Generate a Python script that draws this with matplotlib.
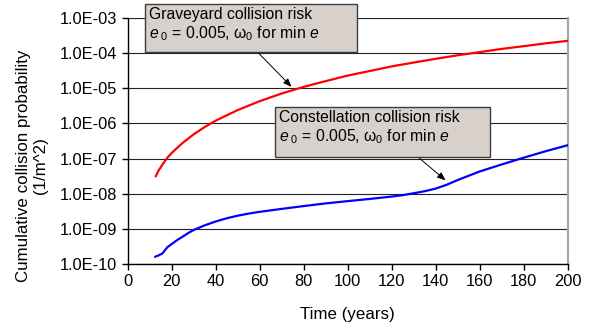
import numpy as np
import matplotlib
matplotlib.use("Agg")
import matplotlib.pyplot as plt
from matplotlib.patches import Rectangle
from matplotlib.ticker import FixedLocator, FuncFormatter, NullLocator

plt.rcParams["font.family"] = ["Liberation Sans", "DejaVu Sans"]
plt.rcParams["mathtext.fontset"] = "custom"
plt.rcParams["mathtext.rm"] = "Liberation Sans"
plt.rcParams["mathtext.it"] = "Liberation Sans:italic"
plt.rcParams["mathtext.bf"] = "Liberation Sans:bold"

# Graveyard orbit cumulative collision probability (1/m^2) vs time (years)
graveyard_years = [12.7, 14, 16, 18, 20, 25, 30, 35, 40, 50, 60, 70, 80, 90,
                   100, 110, 120, 130, 140, 150, 160, 170, 180, 190, 200]
graveyard_prob = [3.1e-8, 4.5e-8, 7.1e-8, 1.05e-7, 1.45e-7, 2.8e-7, 4.9e-7,
                  7.9e-7, 1.2e-6, 2.4e-6, 4.3e-6, 7.1e-6, 1.1e-5, 1.6e-5,
                  2.3e-5, 3.1e-5, 4.2e-5, 5.4e-5, 6.9e-5, 8.7e-5, 1.07e-4,
                  1.32e-4, 1.58e-4, 1.9e-4, 2.24e-4]

# Constellation cumulative collision probability (1/m^2) vs time (years)
constellation_years = [12.4, 14, 15.8, 17, 18, 20, 22.5, 25, 27.5, 30, 35, 40,
                       45, 50, 55, 60, 70, 80, 90, 100, 110, 120, 125, 130,
                       135, 140, 145, 150, 160, 170, 180, 190, 200]
constellation_prob = [1.6e-10, 1.75e-10, 2.0e-10, 2.5e-10, 3.0e-10, 3.7e-10,
                      4.8e-10, 6.0e-10, 7.6e-10, 9.3e-10, 1.26e-9, 1.62e-9,
                      2.0e-9, 2.37e-9, 2.72e-9, 3.05e-9, 3.7e-9, 4.45e-9,
                      5.3e-9, 6.15e-9, 7.1e-9, 8.3e-9, 9.1e-9, 1.03e-8,
                      1.18e-8, 1.4e-8, 1.8e-8, 2.45e-8, 4.3e-8, 6.8e-8,
                      1.06e-7, 1.62e-7, 2.4e-7]

x_ticks = list(range(0, 201, 20))
y_ticks = [1e-10, 1e-9, 1e-8, 1e-7, 1e-6, 1e-5, 1e-4, 1e-3]

W, H = 590, 329
fig = plt.figure(figsize=(W / 100, H / 100), dpi=100)
ax = fig.add_axes([127.7 / W, 1 - 264 / H, 440 / W, 246 / H])

ax.plot(graveyard_years, graveyard_prob, color="#ff0000", lw=1.6,
        solid_capstyle="round", zorder=3)
ax.plot(constellation_years, constellation_prob, color="#0000ff", lw=1.6,
        solid_capstyle="round", zorder=3)

ax.set_yscale("log")
ax.set_xlim(0, 200)
ax.set_ylim(1e-10, 1e-3)
ax.xaxis.set_major_locator(FixedLocator(x_ticks))
ax.yaxis.set_major_locator(FixedLocator(y_ticks))
ax.yaxis.set_minor_locator(NullLocator())


def sci_fmt(v, pos):
    exp = int(round(np.log10(v)))
    return f"1.0E{'-' if exp < 0 else '+'}{abs(exp):02d}"


ax.yaxis.set_major_formatter(FuncFormatter(sci_fmt))
ax.tick_params(axis="both", direction="out", length=4, width=1,
               color="black", labelsize=11.8, pad=3)
ax.tick_params(axis="y", pad=3.5)

ax.grid(axis="y", color="#222222", lw=0.8)
ax.grid(axis="x", visible=False)
ax.set_axisbelow(True)

ax.spines["top"].set_visible(False)
ax.spines["left"].set_color("black")
ax.spines["bottom"].set_color("black")
ax.spines["left"].set_linewidth(1)
ax.spines["bottom"].set_linewidth(1)
ax.spines["right"].set_color("#a8a8a8")
ax.spines["right"].set_linewidth(1.6)

fig.text(347.7 / W, 1 - 315 / H, "Time (years)", ha="center", va="center",
         fontsize=12.2)
fig.text(32 / W, 1 - 166 / H, "Cumulative collision probability\n(1/m^2)",
         rotation=90, ha="center", va="center", multialignment="center",
         fontsize=12.2, linespacing=1.1)

line2 = r"$\mathit{e}_{\ \mathit{0}}$ = 0.005, ω$_0$ for min $\mathit{e}$"


def callout(left, top, right, bottom, title):
    rect = Rectangle((left / W, 1 - bottom / H), (right - left) / W,
                     (bottom - top) / H, transform=fig.transFigure,
                     facecolor="#d8d1cb", edgecolor="#3c3c3c", lw=1.0,
                     zorder=5)
    fig.patches.append(rect)
    fig.text((left + 4) / W, 1 - (top + 10) / H, title, fontsize=11.3,
             ha="left", va="center", zorder=6)
    fig.text((left + 4) / W, 1 - (top + 30) / H, line2, fontsize=11.3,
             ha="left", va="center", zorder=6)


callout(145, 4, 357, 52, "Graveyard collision risk")
callout(275, 107, 490, 157, "Constellation collision risk")

arrow = dict(arrowstyle="-|>,head_length=0.5,head_width=0.2", color="black",
             lw=0.7, shrinkA=0, shrinkB=0)
ax.annotate("", xy=(74.5, 1.1e-5), xytext=(59.5, 1.0e-4), arrowprops=arrow,
            zorder=4)
ax.annotate("", xy=(144.5, 2.4e-8), xytext=(132, 1.1e-7), arrowprops=arrow,
            zorder=4)

fig.savefig("out.png", dpi=100)
